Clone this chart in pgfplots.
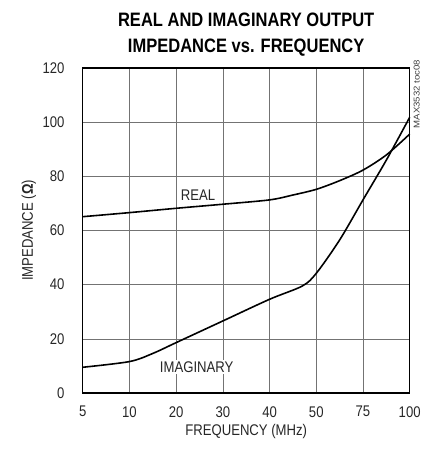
\documentclass[border=0pt]{standalone}
\usepackage{fontspec}
\setmainfont{Liberation Sans}[FakeStretch=0.85]
\usepackage{pgfplots}
\pgfplotsset{compat=1.18}
\begin{document}
\fontsize{15.5}{18}\selectfont
\begin{tikzpicture}
\begin{axis}[
  scale only axis,
  width=327bp, height=325bp,
  xmin=0, xmax=7, ymin=0, ymax=120,
  xtick={0,...,7},
  xticklabels={5,10,20,30,40,50,75,100},
  ytick={0,20,...,120},
  major tick length=0pt,
  grid=major,
  major grid style={line width=0.6pt, black!55},
  axis line style={line width=1.6pt},
  every tick label/.append style={font=\fontsize{15.5}{18}\selectfont, text=black!85},
  /pgf/number format/assume math mode=true,
  xticklabel style={yshift=-8pt},
  yticklabel style={xshift=-13pt},
  xlabel={FREQUENCY (MHz)},
  ylabel={IMPEDANCE (\textbf{Ω})},
  label style={font=\fontsize{15.5}{18}\selectfont, text=black!85},
  xlabel style={yshift=3pt},
  ylabel style={yshift=-4pt},
  title={\textbf{REAL AND IMAGINARY OUTPUT}\\\textbf{IMPEDANCE vs. FREQUENCY}},
  title style={font=\fontsize{19.5}{26}\selectfont, align=center, yshift=0pt},
  clip=false,
]
\addplot[line width=1.6pt, smooth, tension=0.5] coordinates {
  (0,65.1) (1,66.6) (2,68.2) (3,69.7) (4,71.3) (4.5,73.1) (5,75.2)
  (5.5,78.4) (6,82.3) (6.5,87.9) (7,95.6)};
\addplot[line width=1.6pt, smooth, tension=0.5] coordinates {
  (0,9.5) (1,11.6) (1.5,14.6) (2,18.6) (3,26.6) (4,34.6) (4.7,39.5)
  (5,44.2) (5.5,56.5) (6,71.3) (6.5,86) (7,101.8)};
\node[fill=white, inner sep=1.5pt, text=black!85] at (axis cs:2.47,73.2) {REAL};
\node[fill=white, inner sep=1.5pt, text=black!85] at (axis cs:2.44,9.7) {IMAGINARY};
\node[rotate=90, anchor=east, font=\fontsize{8.5}{9}\selectfont, text=black!75, inner sep=0pt]
  at ([xshift=7bp,yshift=8bp]rel axis cs:1,1) {\scalebox{1.33}[1]{MAX3532 toc08}};
\end{axis}
\pgfresetboundingbox
\path[use as bounding box] ([shift={(-82.7bp,-64bp)}]current axis.south west)
  rectangle ([shift={(12bp,68bp)}]current axis.north east);
\end{tikzpicture}
\end{document}
